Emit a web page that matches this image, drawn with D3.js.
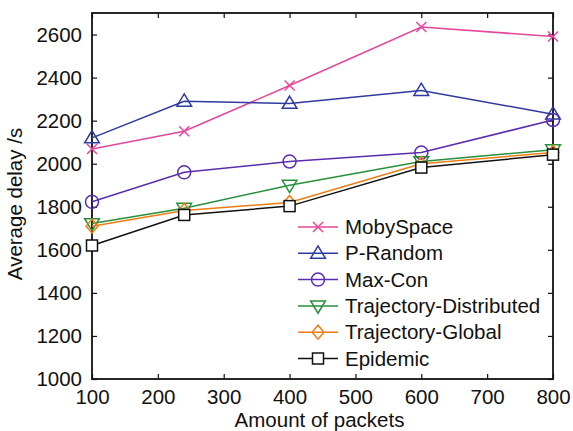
<!DOCTYPE html>
<html>
<head>
<meta charset="utf-8">
<script src="https://cdn.jsdelivr.net/npm/d3@7"></script>
<style>
  html, body { margin: 0; padding: 0; background: #fff; }
  svg { display: block; font-family: "Liberation Sans", Arial, Helvetica, sans-serif; }
</style>
</head>
<body>
<svg id="chart" width="573" height="431"></svg>
<script>
// Packet counts on the x axis
const packets = [100, 240, 400, 600, 800];

// Average delay (s) per routing scheme
const mobySpace = [2068, 2151, 2363, 2635, 2591];
const pRandom = [2120, 2290, 2280, 2340, 2230];
const maxCon = [1823, 1960, 2010, 2052, 2203];
const trajDistributed = [1722, 1793, 1900, 2010, 2065];
const trajGlobal = [1710, 1783, 1820, 2000, 2052];
const epidemic = [1620, 1762, 1803, 1982, 2042];

const seriesNames = ["MobySpace", "P-Random", "Max-Con", "Trajectory-Distributed", "Trajectory-Global", "Epidemic"];
const seriesValues = [mobySpace, pRandom, maxCon, trajDistributed, trajGlobal, epidemic];
const seriesColors = ["#e5479a", "#2e3a9e", "#5a2db0", "#27903c", "#ef7d12", "#111111"];
const seriesMarkers = ["cross", "triUp", "circle", "triDown", "diamond", "square"];

const xTicks = [100, 200, 300, 400, 500, 600, 700, 800];
const yTicks = [1000, 1200, 1400, 1600, 1800, 2000, 2200, 2400, 2600];

const svg = d3.select("#chart");
const plot = { left: 92, right: 553, top: 13, bottom: 379 };

const x = d3.scaleLinear().domain([100, 800]).range([plot.left, plot.right]);
const y = d3.scaleLinear().domain([1000, 2700]).range([plot.bottom, plot.top]);

const fontSize = 20.5;
const fmt = d3.format("d");

// Frame
svg.append("rect")
  .attr("x", plot.left).attr("y", plot.top)
  .attr("width", plot.right - plot.left).attr("height", plot.bottom - plot.top)
  .attr("fill", "none").attr("stroke", "#111").attr("stroke-width", 1.8);

// Axes with inward ticks
const tickLen = 5;
const xAxis = svg.append("g").attr("transform", `translate(0,${plot.bottom})`)
  .call(d3.axisBottom(x).tickValues(xTicks).tickFormat(fmt).tickSizeInner(-tickLen).tickSizeOuter(0).tickPadding(10));
const xAxisTop = svg.append("g").attr("transform", `translate(0,${plot.top})`)
  .call(d3.axisTop(x).tickValues(xTicks).tickSizeInner(-tickLen).tickSizeOuter(0).tickFormat(""));
const yAxis = svg.append("g").attr("transform", `translate(${plot.left},0)`)
  .call(d3.axisLeft(y).tickValues(yTicks).tickFormat(fmt).tickSizeInner(-tickLen).tickSizeOuter(0).tickPadding(10));
const yAxisRight = svg.append("g").attr("transform", `translate(${plot.right},0)`)
  .call(d3.axisRight(y).tickValues(yTicks).tickSizeInner(-tickLen).tickSizeOuter(0).tickFormat(""));

[xAxis, xAxisTop, yAxis, yAxisRight].forEach(g => {
  g.select(".domain").remove();
  g.selectAll(".tick line").attr("stroke", "#111").attr("stroke-width", 1.2);
  g.selectAll(".tick text").attr("fill", "#111").style("font-size", fontSize + "px")
    .style("font-family", '"Liberation Sans", Arial, sans-serif');
});

// Axis titles
svg.append("text")
  .attr("x", (plot.left + plot.right) / 2 - 3).attr("y", 427)
  .attr("text-anchor", "middle").attr("fill", "#111")
  .style("font-size", fontSize + "px")
  .text("Amount of packets");
svg.append("text")
  .attr("transform", `translate(22,204) rotate(-90)`)
  .attr("text-anchor", "middle").attr("fill", "#111")
  .style("font-size", fontSize + "px")
  .text("Average delay /s");

// Marker drawing
function drawMarker(g, kind, cx, cy, color) {
  const sw = 1.5;
  if (kind === "cross") {
    const s = 5;
    g.append("path").attr("d", `M${cx - s},${cy - s}L${cx + s},${cy + s}M${cx - s},${cy + s}L${cx + s},${cy - s}`)
      .attr("stroke", color).attr("stroke-width", sw).attr("fill", "none");
  } else if (kind === "triUp") {
    const s = 7;
    g.append("path").attr("d", `M${cx},${cy - s * 1.05}L${cx + s * 1.05},${cy + s * 0.7}L${cx - s * 1.05},${cy + s * 0.7}Z`)
      .attr("stroke", color).attr("stroke-width", sw).attr("fill", "none");
  } else if (kind === "triDown") {
    const s = 7;
    g.append("path").attr("d", `M${cx},${cy + s * 1.05}L${cx + s * 1.05},${cy - s * 0.7}L${cx - s * 1.05},${cy - s * 0.7}Z`)
      .attr("stroke", color).attr("stroke-width", sw).attr("fill", "none");
  } else if (kind === "circle") {
    g.append("circle").attr("cx", cx).attr("cy", cy).attr("r", 6.5)
      .attr("stroke", color).attr("stroke-width", sw).attr("fill", "none");
  } else if (kind === "diamond") {
    const s = 7;
    g.append("path").attr("d", `M${cx},${cy - s}L${cx + s * 0.85},${cy}L${cx},${cy + s}L${cx - s * 0.85},${cy}Z`)
      .attr("stroke", color).attr("stroke-width", sw).attr("fill", "none");
  } else if (kind === "square") {
    const s = 5.5;
    g.append("rect").attr("x", cx - s).attr("y", cy - s).attr("width", 2 * s).attr("height", 2 * s)
      .attr("stroke", color).attr("stroke-width", sw).attr("fill", "#fff");
  }
}

// Series lines and markers
const line = d3.line().x((d, i) => x(packets[i])).y(d => y(d));
seriesValues.forEach((vals, k) => {
  const g = svg.append("g");
  g.append("path").datum(vals).attr("d", line)
    .attr("fill", "none").attr("stroke", seriesColors[k]).attr("stroke-width", 1.5);
  vals.forEach((v, i) => drawMarker(g, seriesMarkers[k], x(packets[i]), y(v), seriesColors[k]));
});

// Legend
const legend = svg.append("g");
const legX0 = 298, legX1 = 338, legTextX = 345, legY0 = 227, legStep = 26.3;
seriesNames.forEach((name, k) => {
  const ly = legY0 + k * legStep;
  legend.append("line").attr("x1", legX0).attr("x2", legX1).attr("y1", ly).attr("y2", ly)
    .attr("stroke", seriesColors[k]).attr("stroke-width", 1.5);
  drawMarker(legend, seriesMarkers[k], (legX0 + legX1) / 2, ly, seriesColors[k]);
  legend.append("text").attr("x", legTextX).attr("y", ly).attr("dy", "0.35em")
    .attr("fill", "#111").style("font-size", fontSize + "px").text(name);
});
</script>
</body>
</html>
